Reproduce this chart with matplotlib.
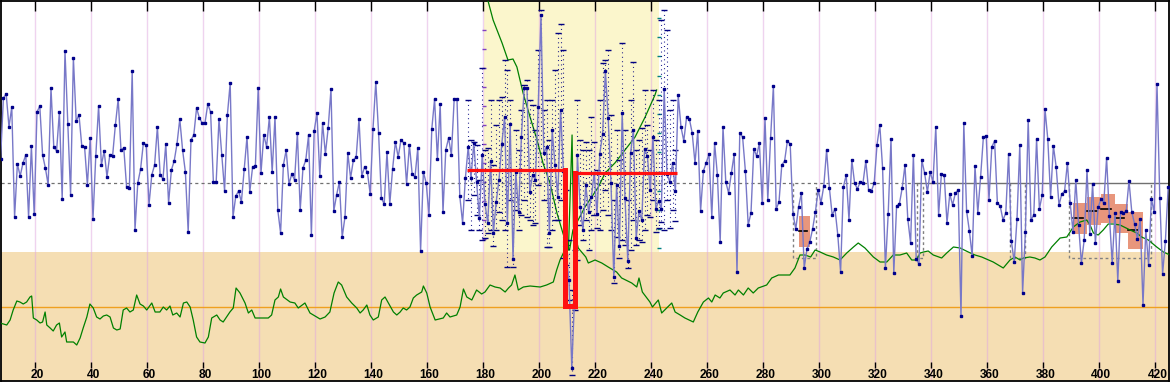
import matplotlib
matplotlib.use("Agg")
import matplotlib.pyplot as plt
from matplotlib.patches import Rectangle
import numpy as np

# Values. Levels are screen depth (0 = top edge, larger = lower),
# so the y axis is inverted below.

# blue series, one point per unit starting at x = 7.6
blue_start = 7.6
blue_1 = [159, 98, 94, 127, 107, 217, 164, 176, 163, 155,
          217, 146, 214, 112, 106, 155, 168, 185, 88, 147,
          151, 112, 199, 51, 124, 195, 58, 121, 115, 146,
          147, 185, 138, 219, 156, 106, 165, 151, 177, 155,
          156, 125, 99, 150, 148, 187, 188, 71, 230, 183,
          169, 143, 145, 205, 175, 165, 127, 175, 179, 144,
          203, 170, 161, 144, 119, 150, 172, 232, 140, 135,
          108, 118, 123, 123, 104, 112, 182, 182, 119, 155,
          191, 115, 83, 217, 196, 191, 202, 169, 137, 192,
          167, 166, 88, 173, 135, 147, 117, 172, 117, 210,
          233, 165, 150, 184, 174, 180, 133, 210]
blue_2 = [168, 160, 135, 235, 131, 113, 176, 123, 154, 128,
          89, 211, 195, 182, 237, 217, 153, 178, 160, 157,
          119, 176, 167, 172, 194, 129, 82, 133, 198, 204,
          152, 204, 169, 142, 157, 140, 143, 184, 145, 174,
          177, 148, 251, 172, 183, 215, 129, 99, 159, 104,
          212, 150, 138]
blue_3 = [155, 99, 99, 196, 223, 178, 147, 178, 143, 182,
          218, 155, 204, 223, 161, 233, 202, 180, 144, 117,
          223, 124, 259, 172, 212, 137, 88, 88, 192, 175,
          180, 107, 15, 153, 147, 233, 130, 165, 197, 110,
          171, 255, 280, 368]
blue_4 = [297, 155, 207, 230, 185, 212, 197, 173, 214, 154,
          134, 71, 118, 183, 277, 185, 246, 113, 198, 261,
          153, 130, 238, 211, 220, 149, 156, 190, 137, 209,
          201, 209, 89, 174, 182, 163, 191, 95, 127, 141,
          117, 119, 133, 163, 131]
blue_5 = [211, 171, 163, 154, 217, 143, 175, 242, 127, 182,
          193, 173, 154, 272, 133, 137, 171, 225, 213, 149,
          156, 143, 203, 118, 200, 138, 86, 209, 202, 165,
          161, 141, 144, 214, 229, 207, 193, 268, 249, 242,
          229, 212, 190, 203, 186, 150, 188, 215, 209, 235,
          272, 187, 175, 220, 160, 183, 189, 182, 183, 161,
          190, 191, 183, 145, 125, 168, 268, 214, 139, 273,
          206, 204, 188, 165, 219, 243, 155, 259, 264, 160,
          173, 192]
blue_6 = [172, 182, 127, 215, 174, 175, 223, 194, 205, 193,
          190, 316, 123, 211, 231, 256, 166, 213, 177, 137,
          136, 200, 147, 141, 203, 206, 220, 213, 154, 241,
          262, 219, 145, 293, 232, 120, 220, 215, 139, 209,
          195, 109, 139, 197, 146, 167, 205, 194, 191, 163,
          203, 232, 180, 225, 263, 240, 170, 234, 184, 243,
          207, 199, 203, 158, 216, 263, 213, 281, 212, 213,
          211, 181, 212, 224, 239, 219, 305, 230, 265, 199,
          212, 84, 198, 274, 241, 187]

# high / low range shown for the points inside the highlighted window
err_first = 167
err_top = [100, 140, 142, 145, 180, 68, 150, 148, 100, 165,
           125, 100, 97, 60, 70, 100, 170, 130, 150, 110,
           85, 80, 100, 105, 130, 50, 10, 110, 100, 140,
           100, 70, 33, 24, 50, 190, 240, 290,
           250, 100, 140, 150, 142, 150, 117, 142, 170, 100,
           63, 60, 50, 115, 200, 130, 160, 43, 130, 200,
           100, 62, 150, 140, 128, 90, 125, 150, 90, 140,
           100, 20, 10, 30, 110, 100, 150]
err_bottom = [200, 230, 195, 215, 230, 240, 238, 233, 230, 246,
              230, 212, 220, 230, 267, 200, 267, 210, 230, 215,
              200, 217, 220, 225, 223, 185, 170, 200, 247, 247,
              230, 220, 220, 200, 258, 265, 300, 375,
              310, 260, 225, 240, 220, 250, 230, 215, 228, 230,
              210, 190, 215, 230, 283, 237, 258, 240, 245, 268,
              250, 220, 245, 240, 242, 230, 215, 217, 200, 232,
              228, 222, 230, 200, 228, 210, 221]

# green series
green_x = [7.4, 9.8, 11.0, 12.1, 13.4, 14.5, 15.7, 16.9, 18.1, 18.7,
           19.3, 20.5, 21.7, 22.6, 23.5, 24.1, 25.3, 26.4, 27.6, 28.6,
           29.4, 30.6, 31.2, 33.6, 34.8, 36.0, 37.1, 38.4, 39.5, 40.7,
           41.9, 43.1, 44.3, 45.5, 46.7, 47.9, 49.1, 50.3, 51.4, 52.6,
           53.8, 55.0, 56.2, 57.4, 58.6, 59.8, 61.6, 62.8, 64.5, 65.7,
           66.9, 68.1, 69.1, 70.5, 71.7, 72.9, 74.1, 75.3, 76.4, 77.6,
           78.8, 80.6, 81.8, 83.0, 84.8, 86.0, 87.1, 89.5, 90.7, 91.7,
           93.1, 94.9, 96.1, 97.3, 98.5, 103.2, 104.4, 105.6, 106.8, 107.6,
           108.6, 111.0, 112.7, 113.9,
           116.3, 118.1, 120.5, 121.7, 123.5, 125.2, 126.7, 128.2, 129.4, 131.2,
           133.0, 134.8, 136.0, 137.1, 138.4, 139.5, 140.7, 142.5, 143.7, 144.9,
           146.1, 147.9, 149.1, 150.3, 151.4, 152.6, 153.8, 155.0, 156.2, 158.0,
           158.6, 159.8, 161.0, 162.8, 165.7, 166.9, 168.1,
           170.5, 171.7, 172.9, 174.1, 175.9, 177.6, 179.4, 180.6, 182.4, 184.2,
           186.0, 187.8, 189.0, 190.1, 191.3, 192.5, 194.3, 196.7, 200.3, 202.6,
           205.0, 206.2, 207.4, 208.6, 210.4, 211.7, 212.2, 213.9, 216.6, 217.5,
           219.9, 222.3, 224.6, 227.6, 229.4, 233.0, 234.8, 235.6, 236.8, 239.5,
           240.4, 242.5, 243.7, 245.5, 247.3, 248.5, 250.3, 252.0, 255.0, 256.6,
           258.6, 260.4, 261.6, 262.8, 264.5, 265.7, 268.1, 269.9, 271.1, 272.9,
           274.6, 276.4, 278.2, 281.2, 283.0, 285.4, 289.5, 291.3, 293.1, 294.9,
           296.9, 298.5, 300.3, 302.6, 305.0, 307.4, 309.8, 312.2, 313.9, 316.3,
           319.3, 321.7, 324.1, 326.4, 328.8, 331.2, 333.0, 334.8, 336.0,
           337.2, 338.9, 340.7, 343.7, 345.5, 347.9, 350.3, 353.2, 355.6, 358.0,
           362.1, 365.7, 368.1, 369.9, 371.7, 372.9, 375.2, 377.0, 378.8, 380.6,
           383.0, 386.0, 388.4, 390.7, 393.1, 395.5, 396.7, 397.9, 399.6, 401.4,
           403.2, 405.0, 407.4, 411.0, 413.4, 415.1, 417.5, 420.5, 422.9, 425.2]
green_y = [323, 325, 320, 310, 301, 302, 304, 302, 297, 296,
           318, 320, 323, 322, 312, 325, 328, 331, 325, 323,
           337, 332, 342, 342, 345, 338, 328, 317, 304, 308,
           317, 319, 316, 315, 317, 328, 330, 329, 310, 308,
           312, 310, 295, 304, 306, 310, 303, 312, 312, 307,
           310, 306, 315, 313, 317, 303, 302, 307, 320, 337,
           342, 343, 337, 318, 315, 320, 322, 312, 308, 288,
           293, 303, 313, 310, 318, 318, 315, 300, 297, 289,
           297, 302, 303, 308,
           303, 313, 317, 319, 317, 312, 293, 282, 285, 297,
           303, 308, 313, 310, 305, 315, 320, 317, 300, 297,
           303, 312, 315, 312, 308, 310, 307, 298, 295, 292,
           286, 293, 307, 320, 318, 313, 317,
           315, 307, 289, 297, 300, 290, 294, 292, 285, 287,
           288, 292, 288, 285, 275, 290, 287, 286, 287, 285,
           282, 270, 260, 253, 250, 135, 227, 248, 257, 263,
           260, 263, 267, 272, 278, 283, 287, 278, 292, 302,
           307, 300, 313, 308, 303, 312, 315, 318, 322, 312,
           302, 298, 302, 295, 298, 293, 290, 295, 290, 295,
           288, 293, 288, 285, 278, 275, 275, 268, 255, 255,
           257, 250, 252, 255, 257, 260, 253, 247, 243, 248,
           257, 262, 262, 255, 255, 253, 260, 260, 253,
           252, 251, 255, 258, 253, 247, 248, 252, 255, 257,
           262, 268, 260, 257, 260, 258, 257, 258, 260, 257,
           247, 238, 237, 227, 222, 220, 225, 233, 235, 230,
           224, 224, 225, 230, 233, 237, 240, 247, 252, 255]

# V shaped envelope inside the window
env_x = [181.6, 183.5, 186.7, 188.8, 190.6, 192.0, 194.2, 196.7, 199.2, 201.3,
         203.8, 206.3, 208.1, 209.9, 210.8, 212.0, 216.3, 221.1, 223.5, 227.0,
         230.6, 234.2, 237.8, 241.3, 241.9]
env_y = [0, 20, 43, 60, 59, 67, 93, 117, 140, 163,
         183, 213, 230, 247, 250, 230, 207, 187, 173, 163,
         150, 137, 117, 95, 90]

# red step
red_x = [174.1, 209.2, 209.2, 212.9, 212.9, 249.1]
red_y = [170, 170, 306, 306, 173, 173]

# shaded boxes: left, width, top, bottom, median
box_left = [292.7, 390.7, 395.5, 400.6, 405.6, 410.4]
box_width = [4.0, 4.8, 5.1, 5.0, 4.8, 5.1]
box_top = [216, 203, 197, 194, 204, 212]
box_bottom = [247, 234, 225, 223, 233, 249]
box_median = [231, 218, 211, 209, 218, 230]

# dotted frames
frame_left = [290.7, 334.8, 368.1, 389.3]
frame_right = [298.7, 336.9, 373.5, 418.4]
frame_top = 183
frame_bottom = 258

mean_level = 183
mean_solid_from = 334.8
ref_level = 307
zone_top = 252.3
window = (180.2, 242.7)
ticks = list(range(20, 421, 20))

x_lo, x_hi = 7.57, 424.71

fig = plt.figure(figsize=(11.7, 3.82), dpi=100)
ax = fig.add_axes([0.5 / 1170, 1.5 / 382, 1168 / 1170, 380 / 382])
ax.set_xlim(x_lo, x_hi)
ax.set_ylim(380.5, 0.5)

# backgrounds
ax.add_patch(Rectangle((x_lo, zone_top), x_hi - x_lo, 400, color="#F5DEB3", zorder=0, lw=0))
ax.add_patch(Rectangle((window[0], 0), window[1] - window[0], zone_top,
                       color="#FBF6CC", zorder=0, lw=0))

# vertical grid
for t in ticks:
    ax.axvline(t, color=(0.88, 0.66, 0.88), alpha=0.5, lw=1, zorder=0.5)

# small ticks at the window edges
ax.plot([window[0]] * 12, np.arange(30, 245, 19), ls="none", marker="_",
        ms=3, mew=1, color="#8040C0", zorder=0.6)
ax.plot([window[1]] * 13, np.arange(18, 250, 19.2), ls="none", marker="_",
        ms=3, mew=1, color="#008080", zorder=0.6)

# boxes
for l, w, t, b, m in zip(box_left, box_width, box_top, box_bottom, box_median):
    ax.add_patch(Rectangle((l, t), w, b - t, color="#E8967C", lw=0, zorder=1))
    ax.plot([l, l + 0.7 * w], [m, m], color="black", lw=1.2, zorder=1.2)

for l, r in zip(frame_left, frame_right):
    ax.plot([l, l, r, r], [frame_top, frame_bottom, frame_bottom, frame_top],
            color="#808080", ls=(0, (2, 2)), lw=1, zorder=1.5)

# reference lines
ax.plot([x_lo, mean_solid_from], [mean_level, mean_level], color="#707070",
        ls=(0, (2.5, 2.5)), lw=0.9, zorder=2)
ax.plot([mean_solid_from, x_hi], [mean_level, mean_level], color="#707070",
        lw=1, zorder=2)
ax.axhline(ref_level, color="#EFA020", lw=1, zorder=2)

# green lines
ax.plot(green_x, green_y, color="#008000", lw=0.9, zorder=3)
ax.plot(env_x, env_y, color="#008000", lw=0.9, zorder=3)

# blue series
blue = np.array(blue_1 + blue_2 + blue_3 + blue_4 + blue_5 + blue_6)
blue_x = blue_start + np.arange(len(blue))

ex = blue_x[err_first:err_first + len(err_top)]
ax.vlines(ex, err_top, err_bottom, colors="#000080", linestyles=(0, (0.8, 3.2)),
          lw=0.8, zorder=3.5)
ax.plot(ex, err_top, ls="none", marker="_", ms=5, mew=1, color="#000080", zorder=3.6)
ax.plot(ex, err_bottom, ls="none", marker="_", ms=5, mew=1, color="#000080", zorder=3.6)

ax.plot(blue_x, blue, color="#7878C8", lw=1, zorder=4)
ax.plot(blue_x, blue, ls="none", marker="s", ms=1.9, color="#00008B", zorder=4.5)

# red step
ax.plot(red_x[:2], red_y[:2], color="#FF1010", lw=2.3, zorder=5, solid_capstyle="butt")
ax.plot(red_x[1:5], red_y[1:5], color="#FF1010", lw=3.6, zorder=5, solid_joinstyle="miter")
ax.plot(red_x[4:], red_y[4:], color="#FF1010", lw=2.3, zorder=5, solid_capstyle="butt")

# axes decoration
ax.set_xticks(ticks)
ax.set_yticks([])
ax.tick_params(axis="x", top=True, bottom=False, labelbottom=False, labeltop=False,
               direction="in", length=7.5, width=1, color="black")
for s in ax.spines.values():
    s.set_color("black")
    s.set_linewidth(1.3)

ax.plot(ticks, [365] * len(ticks), ls="none", marker="|", ms=4.5, mew=1,
        color="black", zorder=6)
for t in ticks:
    ax.annotate(str(t), (t, 374.5), xytext=(1.5, 0), textcoords="offset points",
                ha="center", va="center", fontsize=8.6, fontweight="bold",
                family="Liberation Sans", color="black", zorder=6)

fig.savefig("out.png", dpi=100)
